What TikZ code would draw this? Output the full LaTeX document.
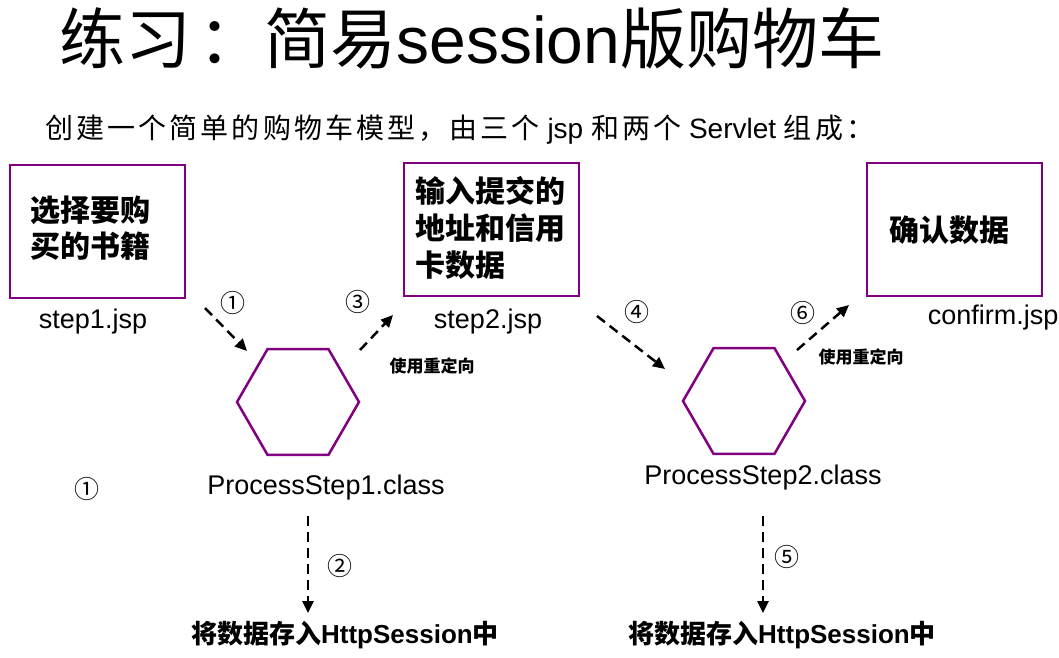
\documentclass[tikz,border=0pt]{standalone}
\usepackage{fontspec}
\setmainfont{Liberation Sans}
\newfontfamily\cjk{Noto Sans CJK SC}
\newfontfamily\cjkwide[LetterSpace=11]{Noto Sans CJK SC}
\usepackage[rgb]{xcolor}
\usetikzlibrary{shapes.geometric,arrows.meta}
\definecolor{jsppurple}{RGB}{128,0,128}
\tikzset{
  jspbox/.style={draw=jsppurple, line width=2pt, minimum width=175pt, minimum height=133pt, inner sep=0pt},
  hexnode/.style={draw=jsppurple, line width=2.5pt, regular polygon, regular polygon sides=6, minimum size=122pt, inner sep=0pt},
  flow/.style={line width=2.5pt, dash pattern=on 10pt off 6pt, -{Triangle[length=12pt,width=11pt]}},
  num/.style={font=\cjk\fontsize{25}{25}\selectfont},
  lbl/.style={font=\fontsize{27}{29}\selectfont},
  pagetxt/.style={anchor=west, align=left, font=\cjk\bfseries\fontsize{30}{37}\selectfont},
  note/.style={font=\cjk\bfseries\fontsize{17}{19}\selectfont},
  store/.style={font=\bfseries\fontsize{26}{28}\selectfont}
}
\begin{document}
\begin{tikzpicture}[x=1pt,y=-1pt]
    \useasboundingbox (0,0) rectangle (1059,657);

    % title
    \node (title) at (472,38) {\fontsize{66}{66}\selectfont{\cjk 练习}\hspace{0.1em}{\cjk ：简易}session{\cjk 版购物车}};
    \node[anchor=west] (intro) at (42,130) {\fontsize{28}{30}\selectfont{\cjkwide 创建一个简单的购物车模型，由三个} jsp {\cjkwide 和两个} Servlet {\cjkwide 组成：}};

    % pages
    \node[jspbox] (box1) at (97.5,231) {};
    \node[pagetxt, font=\cjk\bfseries\fontsize{30}{36}\selectfont] (txt1) at (27,228) {选择要购\\买的书籍};
    \node[lbl] (lab1) at (93,322) {step1.jsp};

    \node[jspbox] (box2) at (491.5,229.5) {};
    \node[pagetxt] (txt2) at (412,228) {输入提交的\\地址和信用\\卡数据};
    \node[lbl] (lab2) at (488,322) {step2.jsp};

    \node[jspbox] (box3) at (954.5,229.5) {};
    \node[font=\cjk\bfseries\fontsize{30}{32}\selectfont] (txt3) at (949,230) {确认数据};
    \node[lbl] (lab3) at (993,318) {confirm.jsp};

    % servlets
    \node[hexnode] (hex1) at (298,402) {};
    \node[lbl] (cls1) at (326,488) {ProcessStep1.class};
    \node[hexnode] (hex2) at (744,401) {};
    \node[lbl] (cls2) at (763,478) {ProcessStep2.class};

    % session
    \node[store] (ses1) at (345,635) {{\cjk 将数据存入}HttpSession{\cjk 中}};
    \node[store] (ses2) at (782,635) {{\cjk 将数据存入}HttpSession{\cjk 中}};

    % arrow ends
    \coordinate (a1s) at (205,308);
    \coordinate (a1e) at (247,351);
    \coordinate (a3s) at (360,350);
    \coordinate (a3e) at (393,315);
    \coordinate (a4s) at (597,316);
    \coordinate (a4e) at (665,369);
    \coordinate (a6s) at (797,350);
    \coordinate (a6e) at (849,305);
    \coordinate (a2s) at (308,516);
    \coordinate (a2e) at (308,613);
    \coordinate (a5s) at (763,516);
    \coordinate (a5e) at (763,613);

    \draw[flow] (a1s) -- (a1e);
    \draw[flow] (a3s) -- (a3e);
    \draw[flow] (a4s) -- (a4e);
    \draw[flow] (a6s) -- (a6e);
    \draw[flow] (a2s) -- (a2e);
    \draw[flow] (a5s) -- (a5e);

    % step numbers
    \node[num] (n1) at (233,303) {①};
    \node[num] (n3) at (358,302) {③};
    \node[num] (n4) at (637,312) {④};
    \node[num] (n6) at (803,313) {⑥};
    \node[num] (n2) at (340,566) {②};
    \node[num] (n5) at (787,557) {⑤};
    \node[num] (n0) at (87,489) {①};

    \node[note] (redir1) at (432,366) {使用重定向};
    \node[note] (redir2) at (861,357) {使用重定向};
\end{tikzpicture}
\end{document}
